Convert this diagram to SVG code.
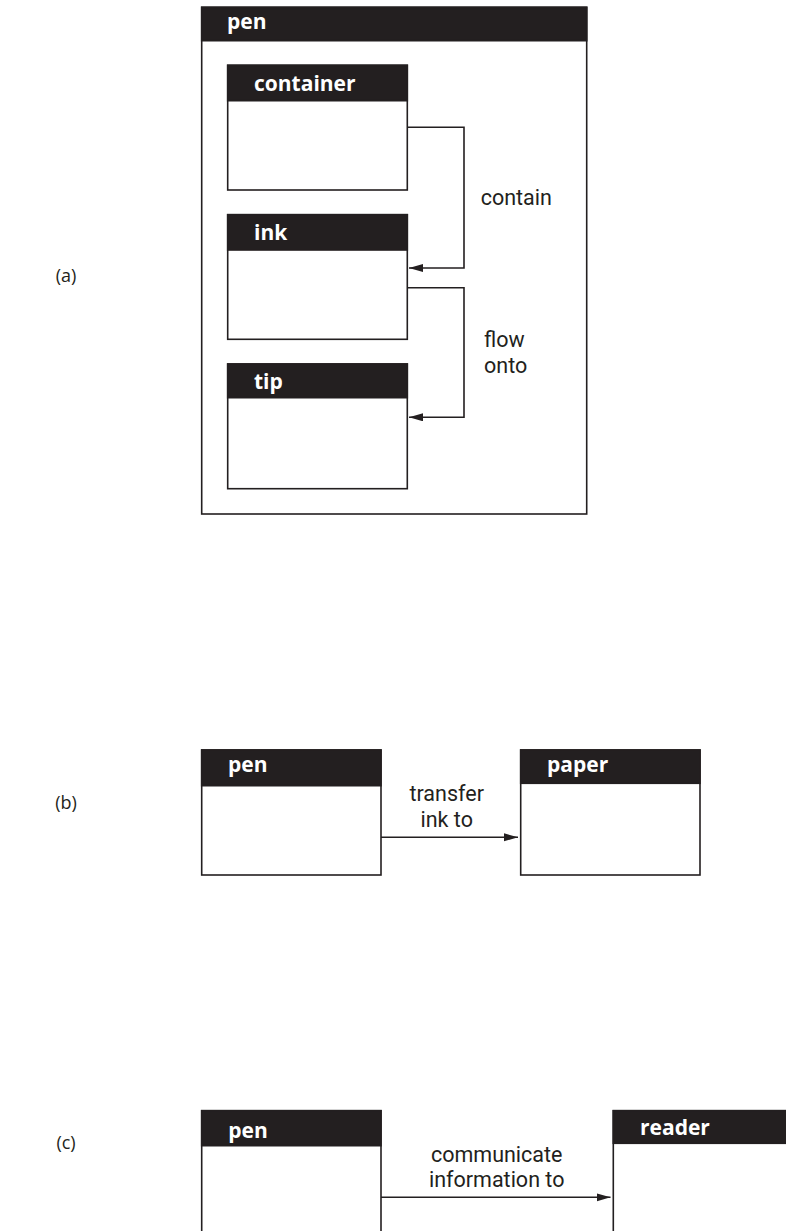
<svg xmlns="http://www.w3.org/2000/svg" width="786" height="1231" viewBox="0 0 786 1231">
<style>
.box{fill:#fff;stroke:#231f20;stroke-width:1.6}
.hdr{fill:#231f20;stroke:#231f20;stroke-width:1.6}
.ttl{font-family:"Open Sans","Noto Sans",sans-serif;font-weight:700;font-size:21px;fill:#fff}
.lbl{font-family:Roboto,"Open Sans",sans-serif;font-size:21.5px;fill:#231f20}
.tag{font-family:"Open Sans","Noto Sans",sans-serif;font-size:18px;fill:#231f20}
.conn{fill:none;stroke:#231f20;stroke-width:1.6}
</style>
<defs>
<marker id="arr" markerUnits="userSpaceOnUse" markerWidth="16" markerHeight="10" refX="14" refY="4" orient="auto">
<path d="M0,0 L14,4 L0,8 Z" fill="#231f20"/>
</marker>
</defs>
<rect width="786" height="1231" fill="#fff"/>
<text class="tag" x="66" y="282" text-anchor="middle">(a)</text>
<text class="tag" x="66" y="809" text-anchor="middle">(b)</text>
<text class="tag" x="66" y="1149" text-anchor="middle">(c)</text>
<g id="pen-a">
<rect class="box" x="201.7" y="7.3" width="385" height="506.7"/>
<rect class="hdr" x="201.7" y="7.3" width="385" height="33.4"/>
<text class="ttl" x="227" y="28.5">pen</text>
</g>
<g id="container">
<rect class="box" x="227.7" y="65.3" width="179.6" height="124.7"/>
<rect class="hdr" x="227.7" y="65.3" width="179.6" height="35.4"/>
<text class="ttl" x="254" y="90.7">container</text>
</g>
<g id="ink">
<rect class="box" x="227.7" y="214.7" width="179.6" height="124.6"/>
<rect class="hdr" x="227.7" y="214.7" width="179.6" height="35.3"/>
<text class="ttl" x="254" y="240">ink</text>
</g>
<g id="tip">
<rect class="box" x="227.7" y="364" width="179.6" height="124.7"/>
<rect class="hdr" x="227.7" y="364" width="179.6" height="33.7"/>
<text class="ttl" x="254" y="389">tip</text>
</g>
<g id="pen-b">
<rect class="box" x="201.7" y="750" width="179.3" height="125"/>
<rect class="hdr" x="201.7" y="750" width="179.3" height="35.7"/>
<text class="ttl" x="228" y="771.7">pen</text>
</g>
<g id="paper">
<rect class="box" x="520.7" y="750" width="179.3" height="125"/>
<rect class="hdr" x="520.7" y="750" width="179.3" height="33.3"/>
<text class="ttl" x="547" y="771.7">paper</text>
</g>
<g id="pen-c">
<rect class="box" x="201.7" y="1110.7" width="179.3" height="140"/>
<rect class="hdr" x="201.7" y="1110.7" width="179.3" height="35"/>
<text class="ttl" x="228.3" y="1138">pen</text>
</g>
<g id="reader">
<rect class="box" x="613.3" y="1110.7" width="200" height="140"/>
<rect class="hdr" x="613.3" y="1110.7" width="200" height="32.6"/>
<text class="ttl" x="640" y="1135">reader</text>
</g>
<g id="connectors">
<path class="conn" d="M407.3,127.3 H464 V268 H409" marker-end="url(#arr)"/>
<path class="conn" d="M407.3,287.7 H464 V417.3 H409" marker-end="url(#arr)"/>
<path class="conn" d="M381,837.3 H518" marker-end="url(#arr)"/>
<path class="conn" d="M381,1197.3 H610.5" marker-end="url(#arr)"/>
<text class="lbl" x="480.7" y="205">contain</text>
<text class="lbl" x="484" y="347.3">flow</text>
<text class="lbl" x="484" y="372.6">onto</text>
<text class="lbl" x="446.7" y="801.3" text-anchor="middle">transfer</text>
<text class="lbl" x="446.7" y="826.6" text-anchor="middle">ink to</text>
<text class="lbl" x="496.7" y="1161.6" text-anchor="middle">communicate</text>
<text class="lbl" x="496.7" y="1186.9" text-anchor="middle">information to</text>
</g>
</svg>
